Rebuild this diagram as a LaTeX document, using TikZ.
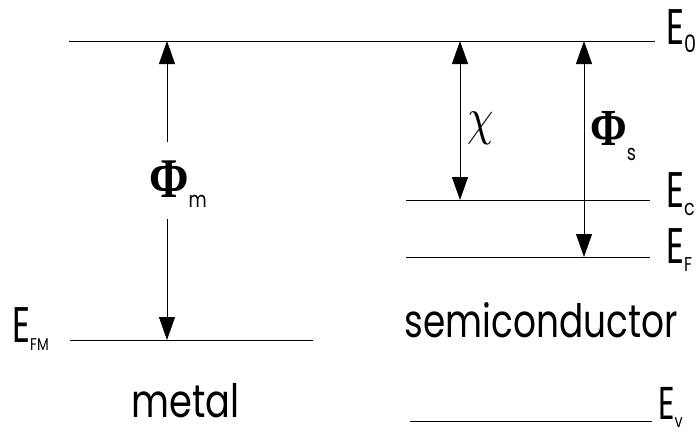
\documentclass[tikz,border=0pt]{standalone}
\usepackage{fontspec}
\setmainfont{Poppins}
\newfontfamily\grk{Liberation Serif}
\usetikzlibrary{arrows.meta}
\newcommand{\Elab}[2][20]{\scalebox{0.7}[1]{E}\raisebox{-8pt}{\fontsize{#1}{#1}\selectfont\scalebox{0.8}[1]{#2}}}
\begin{document}
\begin{tikzpicture}[x=1pt,y=-1pt,
  lvl/.style={line width=1pt},
  tip/.tip={Triangle[width=16pt,length=23pt]},
  arr/.style={line width=1pt,-tip},
  darr/.style={line width=1pt,tip-tip},
  elbl/.style={inner sep=0pt,anchor=base west,font=\fontsize{50}{50}\selectfont},
  txt/.style={inner sep=0pt,anchor=base,font=\fontsize{46}{46}\selectfont},
  grklbl/.style={inner sep=0pt,anchor=base west}
]
\useasboundingbox (0,0) rectangle (697,439);
% energy levels
\coordinate (e0a) at (69,41);  \coordinate (e0b) at (655,41);
\coordinate (eca) at (406,200); \coordinate (ecb) at (650,200);
\coordinate (efa) at (406,257); \coordinate (efb) at (650,257);
\coordinate (fma) at (70,340); \coordinate (fmb) at (313,340);
\coordinate (eva) at (410,421); \coordinate (evb) at (652,421);
\draw[lvl] (e0a) -- (e0b);
\draw[lvl] (eca) -- (ecb);
\draw[lvl] (efa) -- (efb);
\draw[lvl] (fma) -- (fmb);
\draw[lvl] (eva) -- (evb);
% level labels
\node[elbl] (l0) at (666,45) {\Elab[24]{0}};
\node[elbl] (lc) at (666,207) {\Elab[22]{c}};
\node[elbl] (lf) at (666,263) {\Elab[20]{F}};
\node[elbl,font=\fontsize{46}{46}\selectfont] (lv) at (658,419) {\Elab[18]{v}};
\node[elbl] (lfm) at (12,342) {\Elab[17]{FM}};
% arrow anchors
\coordinate (mt) at (167,41);  \coordinate (mb) at (167,340);
\coordinate (mt2) at (167,142); \coordinate (mb2) at (167,219);
\coordinate (ct) at (460,41);  \coordinate (cb) at (460,200);
\coordinate (st) at (584,41);  \coordinate (sb) at (584,257);
\draw[arr] (mt2) -- (mt);
\draw[arr] (mb2) -- (mb);
\draw[darr] (ct) -- (cb);
\draw[darr] (st) -- (sb);
% greek labels
\node[grklbl] (phim) at (149,197) {\grk\bfseries\fontsize{56}{56}\selectfont\scalebox{0.85}[1]{Φ}\raisebox{-10pt}{\rmfamily\mdseries\fontsize{22}{22}\selectfont\scalebox{0.8}[1]{m}}};
\node[grklbl] (chi) at (467,134) {\scalebox{4.2}[5.2]{$\chi$}};
\node[grklbl] (phis) at (590,145) {\grk\bfseries\fontsize{52}{52}\selectfont\scalebox{0.85}[1]{Φ}\raisebox{-15pt}{\rmfamily\mdseries\fontsize{22}{22}\selectfont\scalebox{0.8}[1]{s}}};
% material labels
\node[txt] (metal) at (185.5,417) {\scalebox{0.8}[1]{metal}};
\node[txt] (semi) at (541,337) {\scalebox{0.78}[1]{semiconductor}};
\end{tikzpicture}
\end{document}
